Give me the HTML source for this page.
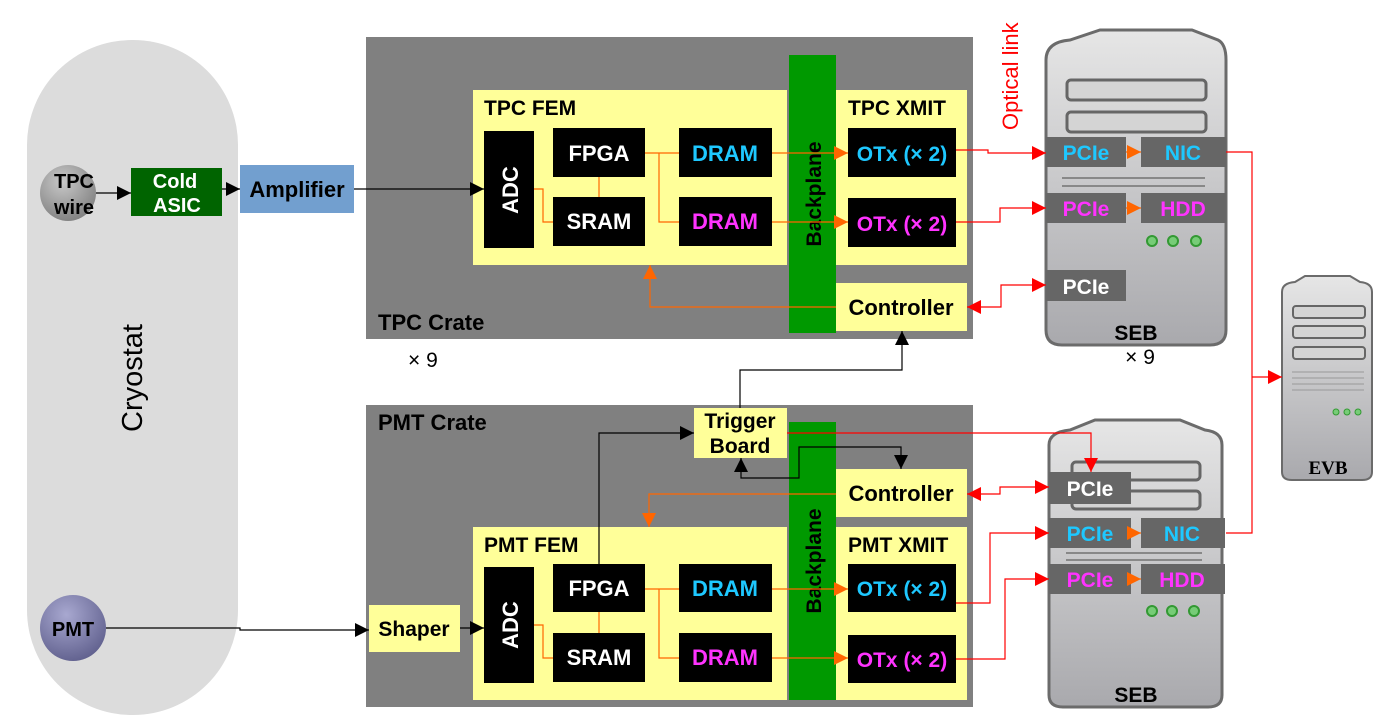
<!DOCTYPE html>
<html><head><meta charset="utf-8"><style>html,body{margin:0;padding:0;background:#fff}svg{display:block}text{font-family:"Liberation Sans",sans-serif;font-weight:bold}</style></head><body>
<svg width="1382" height="727" viewBox="0 0 1382 727" xmlns="http://www.w3.org/2000/svg">
<defs>
<marker id="ar" viewBox="0 0 10 10" refX="10" refY="5" markerWidth="16" markerHeight="14" orient="auto-start-reverse" markerUnits="userSpaceOnUse"><path d="M0,0L10,5L0,10z" fill="#f00"/></marker>
<marker id="ao" viewBox="0 0 10 10" refX="10" refY="5" markerWidth="16" markerHeight="14" orient="auto-start-reverse" markerUnits="userSpaceOnUse"><path d="M0,0L10,5L0,10z" fill="#f60"/></marker>
<marker id="abk" viewBox="0 0 10 10" refX="10" refY="5" markerWidth="18" markerHeight="14" orient="auto-start-reverse" markerUnits="userSpaceOnUse"><path d="M0,0L10,5L0,10z" fill="#000"/></marker>
<linearGradient id="sv" x1="0" y1="0" x2="0" y2="1"><stop offset="0" stop-color="#e6e6e6"/><stop offset="1" stop-color="#a9a9ad"/></linearGradient>
<radialGradient id="tw" cx="0.4" cy="0.3" r="0.8"><stop offset="0" stop-color="#c8c8c8"/><stop offset="1" stop-color="#7a7a7a"/></radialGradient>
<radialGradient id="pm" cx="0.4" cy="0.3" r="0.8"><stop offset="0" stop-color="#a8a8d0"/><stop offset="1" stop-color="#5a5a88"/></radialGradient>
</defs>

<rect x="27" y="40" width="211" height="675" rx="105" fill="#dcdcdc"/>
<text x="142" y="378" font-size="29" style="font-weight:normal" fill="#000" text-anchor="middle" transform="rotate(-90 142 378)">Cryostat</text>
<circle cx="68" cy="193" r="28" fill="url(#tw)"/>
<text x="74" y="188" font-size="20" fill="#000" text-anchor="middle">TPC</text>
<text x="74" y="214" font-size="20" fill="#000" text-anchor="middle">wire</text>
<circle cx="73" cy="628" r="33" fill="url(#pm)"/>
<text x="73" y="636" font-size="20" fill="#000" text-anchor="middle">PMT</text>
<rect x="131" y="168" width="91" height="48" fill="#006400"/>
<text x="175" y="188" font-size="20" fill="#fff" text-anchor="middle">Cold</text>
<text x="177" y="212" font-size="20" fill="#fff" text-anchor="middle">ASIC</text>
<rect x="240" y="165" width="114" height="48" fill="#729fcf"/>
<text x="297" y="197" font-size="22" fill="#000" text-anchor="middle">Amplifier</text>

<rect x="366" y="37" width="607" height="302" fill="#808080"/>
<text x="378" y="330" font-size="22" fill="#000">TPC Crate</text>
<text x="408" y="367" font-size="21" fill="#000" style="font-weight:normal">× 9</text>
<rect x="473" y="90" width="314" height="175" fill="#ffff99"/>
<text x="484" y="115" font-size="21" fill="#000">TPC FEM</text>
<rect x="484" y="131" width="50" height="117" fill="#000"/>
<text x="518" y="190" font-size="22" fill="#fff" text-anchor="middle" transform="rotate(-90 518 190)">ADC</text>
<rect x="553" y="128" width="92" height="49" fill="#000"/><text x="599" y="161" font-size="22" fill="#fff" text-anchor="middle">FPGA</text>
<rect x="553" y="197" width="92" height="49" fill="#000"/><text x="599" y="229" font-size="22" fill="#fff" text-anchor="middle">SRAM</text>
<rect x="679" y="128" width="93" height="49" fill="#000"/><text x="725" y="161" font-size="22" fill="#1ec8ff" text-anchor="middle">DRAM</text>
<rect x="679" y="197" width="93" height="49" fill="#000"/><text x="725" y="229" font-size="22" fill="#ff33ff" text-anchor="middle">DRAM</text>
<rect x="789" y="55" width="47" height="278" fill="#009900"/>
<text x="821" y="194" font-size="21" fill="#000" text-anchor="middle" transform="rotate(-90 821 194)">Backplane</text>
<rect x="836" y="90" width="131" height="175" fill="#ffff99"/>
<text x="848" y="115" font-size="21" fill="#000">TPC XMIT</text>
<rect x="848" y="128" width="108" height="49" fill="#000"/><text x="902" y="161" font-size="21" fill="#1ec8ff" text-anchor="middle">OTx (× 2)</text>
<rect x="848" y="198" width="108" height="49" fill="#000"/><text x="902" y="231" font-size="21" fill="#ff33ff" text-anchor="middle">OTx (× 2)</text>
<rect x="836" y="283" width="131" height="48" fill="#ffff99"/><text x="901" y="315" font-size="22" fill="#000" text-anchor="middle">Controller</text>
<text x="1018" y="130" font-size="22" fill="#f00" style="font-weight:normal" transform="rotate(-90 1018 130)">Optical link</text>

<rect x="366" y="405" width="607" height="302" fill="#808080"/>
<text x="378" y="430" font-size="22" fill="#000">PMT Crate</text>
<rect x="789" y="422" width="47" height="278" fill="#009900"/>
<text x="821" y="561" font-size="21" fill="#000" text-anchor="middle" transform="rotate(-90 821 561)">Backplane</text>
<rect x="694" y="408" width="93" height="50" fill="#ffff99"/>
<text x="740" y="428" font-size="21" fill="#000" text-anchor="middle">Trigger</text>
<text x="740" y="453" font-size="21" fill="#000" text-anchor="middle">Board</text>
<rect x="836" y="469" width="131" height="48" fill="#ffff99"/><text x="901" y="501" font-size="22" fill="#000" text-anchor="middle">Controller</text>
<rect x="473" y="527" width="314" height="173" fill="#ffff99"/>
<text x="484" y="552" font-size="21" fill="#000">PMT FEM</text>
<rect x="484" y="567" width="50" height="116" fill="#000"/>
<text x="518" y="625" font-size="22" fill="#fff" text-anchor="middle" transform="rotate(-90 518 625)">ADC</text>
<rect x="553" y="564" width="92" height="48" fill="#000"/><text x="599" y="596" font-size="22" fill="#fff" text-anchor="middle">FPGA</text>
<rect x="553" y="633" width="92" height="49" fill="#000"/><text x="599" y="665" font-size="22" fill="#fff" text-anchor="middle">SRAM</text>
<rect x="679" y="564" width="93" height="48" fill="#000"/><text x="725" y="596" font-size="22" fill="#1ec8ff" text-anchor="middle">DRAM</text>
<rect x="679" y="633" width="93" height="49" fill="#000"/><text x="725" y="665" font-size="22" fill="#ff33ff" text-anchor="middle">DRAM</text>
<rect x="836" y="527" width="131" height="173" fill="#ffff99"/>
<text x="848" y="552" font-size="21" fill="#000">PMT XMIT</text>
<rect x="848" y="564" width="108" height="48" fill="#000"/><text x="902" y="596" font-size="21" fill="#1ec8ff" text-anchor="middle">OTx (× 2)</text>
<rect x="848" y="635" width="108" height="48" fill="#000"/><text x="902" y="667" font-size="21" fill="#ff33ff" text-anchor="middle">OTx (× 2)</text>
<rect x="369" y="605" width="91" height="47" fill="#ffff99"/><text x="414" y="636" font-size="21" fill="#000" text-anchor="middle">Shaper</text>

<g>
<path d="M1046,60 Q1046,42 1070,40 L1100,30 L1192,30 L1218,40 Q1226,44 1226,60 L1226,330 Q1226,345 1210,345 L1062,345 Q1046,345 1046,330 Z" fill="url(#sv)" stroke="#6b6b6b" stroke-width="3"/>
<rect x="1067" y="80" width="139" height="20" rx="4" fill="#d4d4d4" stroke="#666" stroke-width="3"/>
<rect x="1067" y="112" width="139" height="20" rx="4" fill="#d4d4d4" stroke="#666" stroke-width="3"/>
<line x1="1062" y1="178" x2="1205" y2="178" stroke="#888" stroke-width="2"/><line x1="1062" y1="186" x2="1205" y2="186" stroke="#888" stroke-width="2"/>
<circle cx="1152" cy="241" r="5" fill="#7c7" stroke="#393" stroke-width="2"/><circle cx="1173" cy="241" r="5" fill="#7c7" stroke="#393" stroke-width="2"/><circle cx="1196" cy="241" r="5" fill="#7c7" stroke="#393" stroke-width="2"/>
<text x="1136" y="340" font-size="21" fill="#000" text-anchor="middle">SEB</text>
<text x="1140" y="364" font-size="21" fill="#000" text-anchor="middle" style="font-weight:normal">× 9</text>
<rect x="1046" y="137" width="80" height="30" fill="#666"/><text x="1086" y="160" font-size="21" fill="#1ec8ff" text-anchor="middle">PCIe</text>
<rect x="1141" y="137" width="85" height="30" fill="#666"/><text x="1183" y="160" font-size="21" fill="#1ec8ff" text-anchor="middle">NIC</text>
<rect x="1046" y="193" width="80" height="30" fill="#666"/><text x="1086" y="216" font-size="21" fill="#ff33ff" text-anchor="middle">PCIe</text>
<rect x="1141" y="193" width="85" height="30" fill="#666"/><text x="1183" y="216" font-size="21" fill="#ff33ff" text-anchor="middle">HDD</text>
<rect x="1046" y="270" width="80" height="31" fill="#666"/><text x="1086" y="294" font-size="21" fill="#fff" text-anchor="middle">PCIe</text>
</g>
<g>
<path d="M1049,445 Q1049,432 1070,430 L1095,420 L1180,420 L1205,430 Q1222,432 1222,445 L1222,695 Q1222,707 1208,707 L1063,707 Q1049,707 1049,695 Z" fill="url(#sv)" stroke="#6b6b6b" stroke-width="3"/>
<rect x="1072" y="462" width="128" height="18" rx="4" fill="#d4d4d4" stroke="#666" stroke-width="3"/>
<rect x="1072" y="491" width="128" height="18" rx="4" fill="#d4d4d4" stroke="#666" stroke-width="3"/>
<line x1="1066" y1="553" x2="1202" y2="553" stroke="#888" stroke-width="2"/><line x1="1066" y1="560" x2="1202" y2="560" stroke="#888" stroke-width="2"/>
<circle cx="1152" cy="611" r="5" fill="#7c7" stroke="#393" stroke-width="2"/><circle cx="1172" cy="611" r="5" fill="#7c7" stroke="#393" stroke-width="2"/><circle cx="1194" cy="611" r="5" fill="#7c7" stroke="#393" stroke-width="2"/>
<text x="1136" y="702" font-size="21" fill="#000" text-anchor="middle">SEB</text>
<rect x="1049" y="472" width="82" height="32" fill="#666"/><text x="1090" y="496" font-size="21" fill="#fff" text-anchor="middle">PCIe</text>
<rect x="1049" y="518" width="82" height="30" fill="#666"/><text x="1090" y="541" font-size="21" fill="#1ec8ff" text-anchor="middle">PCIe</text>
<rect x="1141" y="518" width="84" height="30" fill="#666"/><text x="1182" y="541" font-size="21" fill="#1ec8ff" text-anchor="middle">NIC</text>
<rect x="1049" y="564" width="82" height="30" fill="#666"/><text x="1090" y="587" font-size="21" fill="#ff33ff" text-anchor="middle">PCIe</text>
<rect x="1141" y="564" width="84" height="30" fill="#666"/><text x="1182" y="587" font-size="21" fill="#ff33ff" text-anchor="middle">HDD</text>
</g>
<g>
<path d="M1282,292 Q1282,283 1295,282 L1305,276 L1350,276 L1360,282 Q1372,283 1372,292 L1372,472 Q1372,480 1362,480 L1292,480 Q1282,480 1282,472 Z" fill="url(#sv)" stroke="#6b6b6b" stroke-width="2"/>
<rect x="1293" y="306" width="72" height="12" rx="3" fill="#d4d4d4" stroke="#666" stroke-width="2"/>
<rect x="1293" y="326" width="72" height="12" rx="3" fill="#d4d4d4" stroke="#666" stroke-width="2"/>
<rect x="1293" y="347" width="72" height="12" rx="3" fill="#d4d4d4" stroke="#666" stroke-width="2"/>
<line x1="1292" y1="372" x2="1364" y2="372" stroke="#999"/><line x1="1292" y1="378" x2="1364" y2="378" stroke="#999"/><line x1="1292" y1="384" x2="1364" y2="384" stroke="#999"/><line x1="1292" y1="390" x2="1364" y2="390" stroke="#999"/>
<circle cx="1336" cy="412" r="3" fill="#7c7" stroke="#393"/><circle cx="1347" cy="412" r="3" fill="#7c7" stroke="#393"/><circle cx="1358" cy="412" r="3" fill="#7c7" stroke="#393"/>
<text x="1328" y="474" font-size="19" fill="#000" text-anchor="middle" style="font-family:'Liberation Serif',serif">EVB</text>
</g>

<g fill="none" stroke="#000" stroke-width="1.2">
<path d="M96,193H131" marker-end="url(#abk)"/>
<path d="M222,189H240" marker-end="url(#abk)"/>
<path d="M354,189H484" marker-end="url(#abk)"/>
<path d="M106,628H240V630H369" marker-end="url(#abk)"/>
<path d="M460,628H484" marker-end="url(#abk)"/>
<path d="M740,408V370H902V331" marker-end="url(#abk)"/>
<path d="M599,564V433H694" marker-end="url(#abk)"/>
<path d="M741,458V478H799V447H901V469" marker-start="url(#abk)" marker-end="url(#abk)"/>
</g>
<g fill="none" stroke="#f60" stroke-width="1.2">
<path d="M534,189H543V222H553"/><path d="M599,177V197"/>
<path d="M645,153H679M659,153V222H679"/>
<path d="M772,153H848" marker-end="url(#ao)"/><path d="M772,222H848" marker-end="url(#ao)"/>
<path d="M836,307H650V265" marker-end="url(#ao)"/>
<path d="M534,625H543V658H553"/><path d="M599,612V633"/>
<path d="M645,589H659V658H679M659,589H679"/>
<path d="M772,589H848" marker-end="url(#ao)"/><path d="M772,658H848" marker-end="url(#ao)"/>
<path d="M836,494H649V527" marker-end="url(#ao)"/>
<path d="M1126,152H1141" marker-end="url(#ao)"/><path d="M1126,208H1141" marker-end="url(#ao)"/>
<path d="M1131,533H1141" marker-end="url(#ao)"/><path d="M1131,579H1141" marker-end="url(#ao)"/>
</g>
<g fill="none" stroke="#f00" stroke-width="1.2">
<path d="M956,150H988V153H1046" marker-end="url(#ar)"/>
<path d="M956,222H1000V208H1046" marker-end="url(#ar)"/>
<path d="M967,307H1001V285H1046" marker-start="url(#ar)" marker-end="url(#ar)"/>
<path d="M1226,152H1252V533H1226"/>
<path d="M1252,377H1282" marker-end="url(#ar)"/>
<path d="M787,433H1091V472" marker-end="url(#ar)"/>
<path d="M967,494H1000V487H1049" marker-start="url(#ar)" marker-end="url(#ar)"/>
<path d="M956,603H990V533H1049" marker-end="url(#ar)"/>
<path d="M956,659H1005V579H1049" marker-end="url(#ar)"/>
</g>
</svg>
</body></html>
